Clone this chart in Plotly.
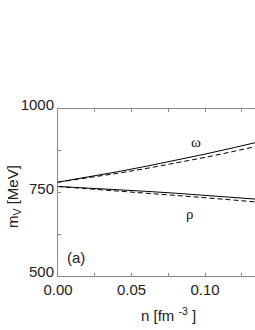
import plotly.graph_objects as go

# density n [fm^-3]
n = [0.0, 0.02, 0.04, 0.06, 0.08, 0.10, 0.12, 0.14]
omega_solid = [781.0, 795.9, 811.7, 828.5, 846.3, 864.9, 884.6, 905.2]
omega_dashed = [781.0, 793.4, 807.1, 821.9, 837.9, 855.1, 873.5, 893.0]
rho_solid = [768.0, 763.6, 758.7, 753.5, 747.8, 741.8, 735.3, 728.4]
rho_dashed = [768.0, 761.6, 755.1, 748.4, 741.5, 734.4, 727.2, 719.8]

x_ticks = [0.0, 0.05, 0.10]
x_tick_text = ["0.00", "0.05", "0.10"]
y_ticks = [500, 750, 1000]
y_tick_text = ["500", "750", "1000"]

FONT = "Liberation Sans, Arial, sans-serif"
AX = "#8a8a8a"
TXT = "#222"

fig = go.Figure()
for ys, dash in [(omega_solid, "solid"), (omega_dashed, "5px,3px"),
                 (rho_solid, "solid"), (rho_dashed, "5px,3px")]:
    fig.add_trace(go.Scatter(x=n, y=ys, mode="lines",
                             line=dict(color="black", width=1, dash=dash)))

fig.update_layout(
    width=255, height=330,
    margin=dict(l=58, r=0, t=109, b=54),
    paper_bgcolor="white", plot_bgcolor="white",
    showlegend=False,
    font=dict(family=FONT, size=15, color=TXT),
    xaxis=dict(range=[0, 0.134], tickvals=x_ticks, ticktext=x_tick_text,
               showgrid=False, zeroline=False, showline=True, linecolor=AX,
               linewidth=1, mirror="ticks", ticks="inside", ticklen=3,
               tickcolor=AX, tickfont=dict(size=15, family=FONT, color=TXT),
               minor=dict(dtick=0.025, tick0=0, ticks="inside", ticklen=3,
                          tickcolor=AX, showgrid=False)),
    yaxis=dict(range=[500, 1000], tickvals=y_ticks, ticktext=y_tick_text,
               showgrid=False, zeroline=False, showline=True, linecolor=AX,
               linewidth=1, ticks="inside", ticklen=3, tickcolor=AX,
               ticklabelshift=-4,
               tickfont=dict(size=15, family=FONT, color=TXT),
               minor=dict(dtick=125, tick0=500, ticks="inside", ticklen=3,
                          tickcolor=AX, showgrid=False)),
)

fig.add_annotation(x=0.094, y=900, xref="x", yref="y", text="ω", showarrow=False,
                   font=dict(family="Liberation Serif, serif", size=15, color=TXT))
fig.add_annotation(x=0.090, y=686, xref="x", yref="y", text="ρ", showarrow=False,
                   font=dict(family="Liberation Serif, serif", size=15, color=TXT))
fig.add_annotation(x=0.012, y=554, xref="x", yref="y", text="(a)", showarrow=False,
                   font=dict(family=FONT, size=15, color=TXT))

fig.add_annotation(x=(168 - 58) / 197, y=-(314 - 276) / 167, xref="paper", yref="paper",
                   xanchor="center", yanchor="middle",
                   text="n [fm <sup>-3</sup> ]", showarrow=False,
                   font=dict(family=FONT, size=15, color=TXT))
fig.add_annotation(x=-(58 - 13) / 197, y=(276 - 197) / 167, xref="paper", yref="paper",
                   xanchor="center", yanchor="middle",
                   text="m<sub>V</sub> [MeV]", showarrow=False, textangle=-90,
                   font=dict(family=FONT, size=15, color=TXT))

fig.write_html("out.html",
               config={"displayModeBar": False, "staticPlot": True},
               post_script="document.body.style.margin='0';"
                           "document.body.style.overflow='hidden';")
